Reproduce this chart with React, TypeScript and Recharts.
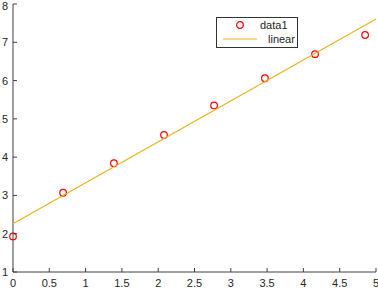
import { ScatterChart, Scatter, XAxis, YAxis } from "recharts"

const xValues = [0, 0.69, 1.39, 2.08, 2.77, 3.47, 4.16, 4.85]
const yValues = [1.93, 3.07, 3.84, 4.58, 5.35, 6.06, 6.69, 7.19]
const fitX = [0, 5]
const fitY = [2.26, 7.61]
const xTicks = [0, 0.5, 1, 1.5, 2, 2.5, 3, 3.5, 4, 4.5, 5]
const yTicks = [1, 2, 3, 4, 5, 6, 7, 8]

const points = xValues.map((x, i) => ({ x, y: yValues[i] }))
const fit = fitX.map((x, i) => ({ x, y: fitY[i] }))

const AXIS = "#404040"
const RED = "#ff0000"
const ORANGE = "#edb120"
const FONT = "'Liberation Sans', Arial, sans-serif"

const XTick = ({ x, y, payload }: any) => (
  <g>
    <line x1={x} x2={x} y1={y} y2={y - 4} stroke={AXIS} strokeWidth={1} />
    <text x={x} y={y + 15} textAnchor="middle" fontSize={11} fill="#262626" fontFamily={FONT}>
      {payload.value}
    </text>
  </g>
)

// top label sits at the very edge, nudge it down so it isn't clipped
const YTick = ({ x, y, payload }: any) => (
  <g>
    <line x1={x} x2={x + 4} y1={y} y2={y} stroke={AXIS} strokeWidth={1} />
    <text x={x - 5} y={Math.max(y + 4, 10)} textAnchor="end" fontSize={11} fill="#262626" fontFamily={FONT}>
      {payload.value}
    </text>
  </g>
)

const Ring = ({ cx, cy }: any) => (
  <circle cx={cx} cy={cy} r={3.3} fill="none" stroke={RED} strokeWidth={1.2} />
)

const LegendBox = () => (
  <svg width={82} height={31} style={{ position: "absolute", left: 216, top: 17 }}>
    <rect x={0.5} y={0.5} width={81} height={30} fill="#fff" stroke="#333" strokeWidth={1} />
    <circle cx={24} cy={8} r={3.3} fill="none" stroke={RED} strokeWidth={1.2} />
    <text x={44} y={12} fontSize={11} fill="#262626" fontFamily={FONT}>data1</text>
    <line x1={7} x2={41} y1={22} y2={22} stroke={ORANGE} strokeWidth={1.2} />
    <text x={52} y={26} fontSize={11} fill="#262626" fontFamily={FONT}>linear</text>
  </svg>
)

export default function App() {
  return (
    <div style={{ position: "absolute", left: 0, top: 0, width: 378, height: 289, background: "#fff" }}>
      <ScatterChart width={378} height={289} margin={{ top: 4, right: 2, bottom: 0, left: 0 }}>
        <XAxis
          type="number"
          dataKey="x"
          domain={[0, 5]}
          ticks={xTicks}
          height={17}
          stroke={AXIS}
          tickLine={false}
          tickSize={0}
          tickMargin={0}
          tick={<XTick />}
          interval={0}
        />
        <YAxis
          type="number"
          dataKey="y"
          domain={[1, 8]}
          ticks={yTicks}
          width={13}
          stroke={AXIS}
          tickLine={false}
          tickSize={0}
          tickMargin={0}
          tick={<YTick />}
          interval={0}
        />
        <Scatter data={points} shape={<Ring />} isAnimationActive={false} />
        <Scatter
          data={fit}
          line={{ stroke: ORANGE, strokeWidth: 1.2 }}
          shape={() => <g />}
          isAnimationActive={false}
        />
      </ScatterChart>
      <LegendBox />
    </div>
  )
}
